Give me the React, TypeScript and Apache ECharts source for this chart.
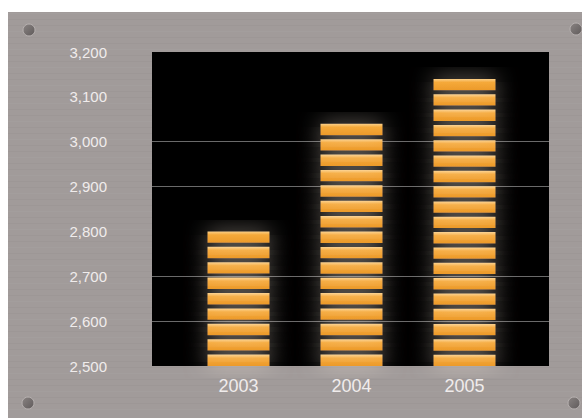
import React, { useEffect, useRef } from "react";
import * as echarts from "echarts";

const categories = ["2003", "2004", "2005"];
const values = [2800, 3040, 3140];
const yMin = 2500;
const yMax = 3200;
const yInterval = 100;

export default function App() {
  const ref = useRef<HTMLDivElement>(null);
  useEffect(() => {
    if (!ref.current) return;
    const chart = echarts.init(ref.current, undefined, { renderer: "svg" });
    const gridLine = "rgba(125,125,125,0.85)";
    const none = "rgba(0,0,0,0)";
    const screw = (cx: number, cy: number) => ({
      type: "circle",
      shape: { cx, cy, r: 6 },
      style: {
        fill: new echarts.graphic.LinearGradient(0, 0, 1, 1, [
          { offset: 0, color: "#8a8483" },
          { offset: 1, color: "#5f5a5a" },
        ]),
        stroke: "#b8b2b1",
        lineWidth: 1,
      },
      z: -5,
    });
    const brush: any[] = [];
    for (let i = 0; i < 67; i++) {
      brush.push({
        type: "rect",
        shape: { x: 8, y: 13 + i * 6, width: 574, height: 1 },
        style: { fill: i % 3 === 0 ? "rgba(255,255,255,0.03)" : "rgba(0,0,0,0.02)" },
        z: -9,
        silent: true,
      });
    }
    const stripeFill = new echarts.graphic.LinearGradient(0, 0, 0, 1, [
      { offset: 0, color: "#fbd08a" },
      { offset: 0.3, color: "#f5a93a" },
      { offset: 1, color: "#ec9a2a" },
    ]);
    const renderItem = (params: any, api: any) => {
      const idx = api.value(0);
      const v = api.value(1);
      const top = api.coord([idx, v]);
      const base = api.coord([idx, yMin]);
      const barW = 62;
      const gap = 4;
      const length = base[1] - top[1];
      const n = Math.max(1, Math.round(length / 15.1));
      const h = (length - (n - 1) * gap) / n;
      const children: any[] = [];
      for (let i = 0; i < n; i++) {
        children.push({
          type: "rect",
          shape: {
            x: top[0] - barW / 2,
            y: base[1] - (i + 1) * h - i * gap,
            width: barW,
            height: h,
          },
          style: {
            fill: stripeFill,
            shadowBlur: 22,
            shadowColor: "rgba(255,240,225,0.5)",
          },
        });
      }
      return { type: "group", children };
    };
    chart.setOption({
      animation: false,
      backgroundColor: "#ffffff",
      graphic: [
        {
          type: "rect",
          shape: { x: 8, y: 12, width: 574, height: 406 },
          style: { fill: "#a19b9a" },
          z: -10,
          silent: true,
        },
        ...brush,
        screw(29, 30),
        screw(576, 29),
        screw(28, 403),
        screw(574, 403),
      ],
      grid: [
        {
          left: 152,
          top: 52,
          width: 397,
          height: 314,
          show: true,
          backgroundColor: "#000000",
          borderWidth: 0,
        },
        { left: 182, top: 52, width: 339, height: 314 },
      ],
      xAxis: [
        { type: "value", gridIndex: 0, show: false, min: 0, max: 1 },
        {
          type: "category",
          gridIndex: 1,
          data: categories,
          axisLine: { show: false },
          axisTick: { show: false },
          axisLabel: {
            color: "#f0ecec",
            fontSize: 18,
            fontFamily: "Liberation Sans",
            margin: 11,
          },
        },
      ],
      yAxis: [
        {
          type: "value",
          gridIndex: 0,
          min: yMin,
          max: yMax,
          interval: yInterval,
          axisLine: { show: false },
          axisTick: { show: false },
          axisLabel: {
            color: "#f0ecec",
            fontSize: 15,
            fontFamily: "Liberation Sans",
            margin: 45,
            formatter: (v: number) => v.toLocaleString("en-US"),
          },
          splitLine: {
            show: true,
            lineStyle: {
              width: 1,
              color: [none, gridLine, gridLine, none, gridLine, gridLine, none, none],
            },
          },
        },
        {
          type: "value",
          gridIndex: 1,
          min: yMin,
          max: yMax,
          interval: yInterval,
          show: false,
          splitLine: { show: false },
        },
      ],
      series: [
        {
          type: "custom",
          xAxisIndex: 1,
          yAxisIndex: 1,
          data: categories.map((c, i) => [i, values[i]]),
          encode: { x: 0, y: 1 },
          renderItem,
          z: 3,
        },
      ],
    });
    return () => chart.dispose();
  }, []);
  return (
    <div
      ref={ref}
      style={{ position: "absolute", left: 0, top: 0, width: 582, height: 418 }}
    />
  );
}
